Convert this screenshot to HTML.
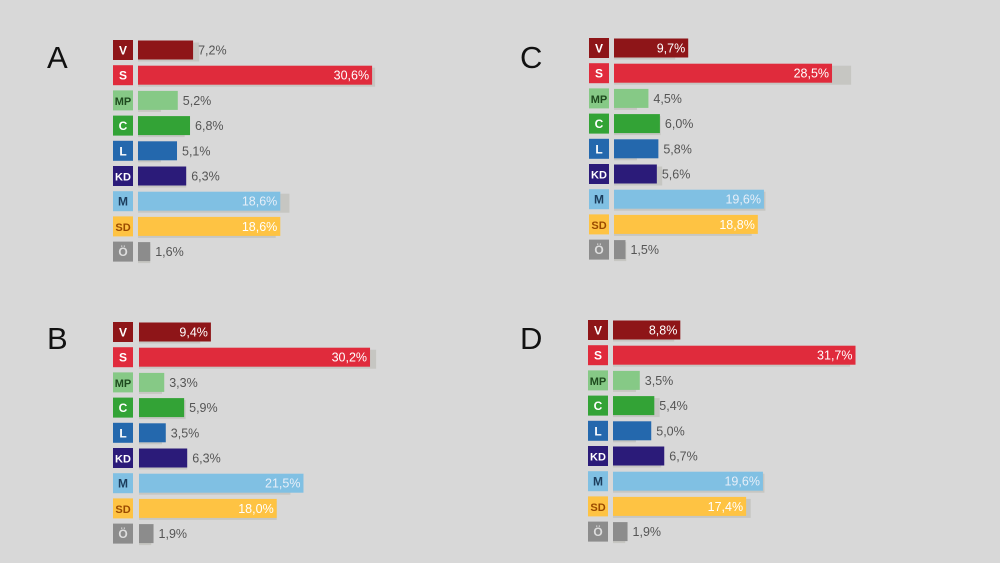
<!DOCTYPE html>
<html><head><meta charset="utf-8"><style>
body{margin:0;background:#d8d8d8;width:1000px;height:563px;overflow:hidden;font-family:"Liberation Sans",sans-serif}
svg{display:block}
</style></head><body>
<svg id="chart" width="1000" height="563"></svg>
<script>
const parties = ["V","S","MP","C","L","KD","M","SD","Ö"];
const valuesA = [7.2,30.6,5.2,6.8,5.1,6.3,18.6,18.6,1.6];
const valuesB = [9.4,30.2,3.3,5.9,3.5,6.3,21.5,18.0,1.9];
const valuesC = [9.7,28.5,4.5,6.0,5.8,5.6,19.6,18.8,1.5];
const valuesD = [8.8,31.7,3.5,5.4,5.0,6.7,19.6,17.4,1.9];
const prevValues = [8.0,31.0,3.0,6.1,3.0,6.3,19.8,18.0,1.6];
const panelLetters = ["A","B","C","D"];

const fills = {V:"#8e1518",S:"#e02b3c",MP:"#86c986",C:"#33a336",L:"#2468ad",KD:"#2b1b79",M:"#80c0e3",SD:"#fec343","Ö":"#8c8c8c"};
const boxText = {V:"#fff",S:"#fff",MP:"#1e4a1e",C:"#fff",L:"#fff",KD:"#fff",M:"#1c3d5c",SD:"#9a4a00","Ö":"#ddd"};
const inText = {V:"#fff",S:"#fff",M:"#e6eef8",SD:"#fff"};
const panels = [
 {vals:valuesA,lx:47,ly:57,bx:113,x0:138,y0:50},
 {vals:valuesB,lx:47,ly:338,bx:113,x0:139,y0:332},
 {vals:valuesC,lx:520,ly:57,bx:589,x0:614,y0:48},
 {vals:valuesD,lx:520,ly:338,bx:588,x0:613,y0:330}
];
const SCALE=7.65, STEP=25.2, H=19;
const svg=document.getElementById('chart');
const NS="http://www.w3.org/2000/svg";
function mk(tag,attrs){const e=document.createElementNS(NS,tag);for(const k in attrs)e.setAttribute(k,attrs[k]);svg.appendChild(e);return e;}
const xScale=(p,v)=>p.x0+v*SCALE;
const yScale=(p,i)=>p.y0+i*STEP;
panels.forEach((p,pi)=>{
  const t=mk('text',{x:p.lx,y:p.ly+11,'font-size':31,fill:'#111'});
  t.textContent=panelLetters[pi];
  
  
  parties.forEach((pt,i)=>{
    const cy=yScale(p,i), v=p.vals[i], key=pt==="Ö"?"o":pt.toLowerCase(), pid=panelLetters[pi].toLowerCase();
    const sh=mk('rect',{x:p.x0,y:cy-H/2+2,width:Math.max(0,xScale(p,prevValues[i])-p.x0),height:H,fill:'#c6c6c2'});
    
    
    const b=mk('rect',{x:p.bx,y:cy-10,width:20,height:20,fill:fills[pt]});
    
    
    const bt=mk('text',{x:p.bx+10,y:cy+4.5,'font-size':pt.length>1?11:12,'font-weight':'bold','text-anchor':'middle',fill:boxText[pt]});
    bt.textContent=pt;
    
    
    const w=xScale(p,v)-p.x0;
    const r=mk('rect',{x:p.x0,y:cy-H/2,width:w,height:H,fill:fills[pt]});
    
    
    const label=v.toFixed(1).replace('.',',')+'%';
    const inside=v>=8;
    const lt=mk('text',{x:inside?xScale(p,v)-3:xScale(p,v)+5,y:cy+4.5,'font-size':12.5,'text-anchor':inside?'end':'start',fill:inside?(inText[pt]||'#fff'):'#555'});
    lt.textContent=label;
    
    
  });
});
</script>
</body></html>
